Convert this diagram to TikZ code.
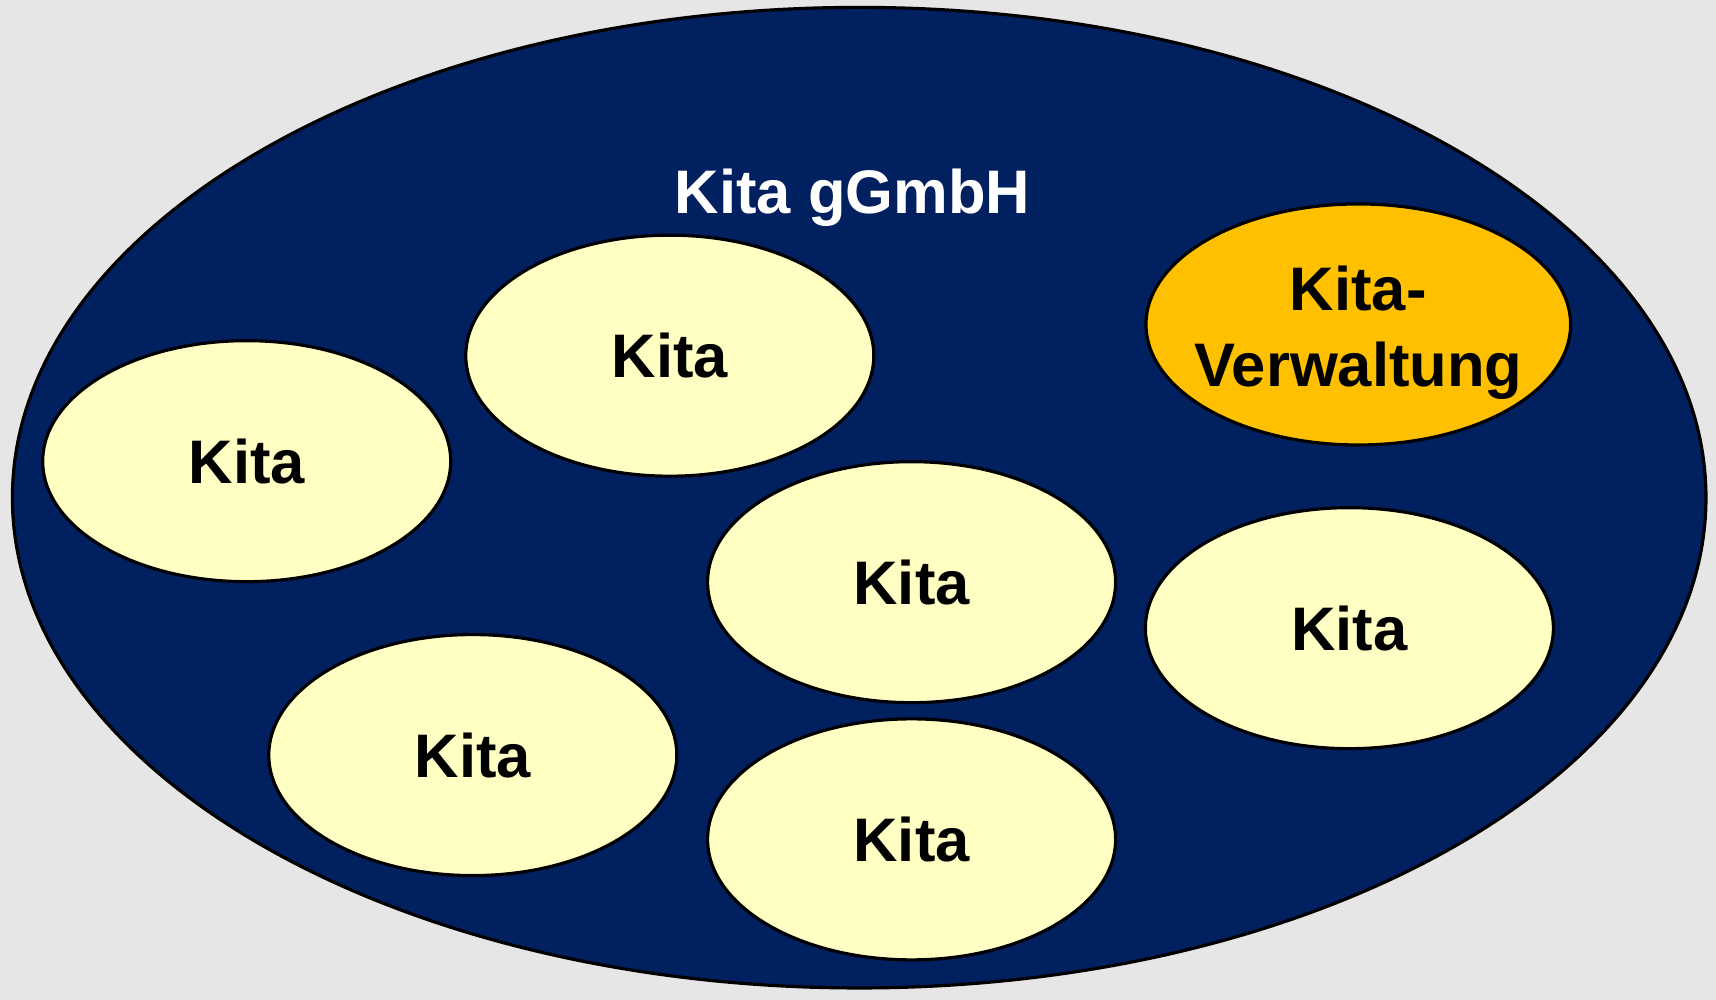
\documentclass[tikz,border=0pt]{standalone}
\usepackage{fontspec}
\setmainfont{Liberation Sans}
\usepackage{tikz}

\definecolor{gmbhblau}{HTML}{002060}
\definecolor{kitagelb}{HTML}{FFFFC4}
\definecolor{verworange}{HTML}{FFC000}
\definecolor{hintergrund}{HTML}{E6E6E6}

\begin{document}
\begin{tikzpicture}[kita/.style={draw=black,line width=0.9pt,fill=kitagelb},
		beschr/.style={font=\fontsize{17.5}{21.6}\selectfont\bfseries,
			align=center,text depth=0pt}]
	\path[fill=hintergrund] (0,0) rectangle (17.16,10);
	\path[use as bounding box] (0,0) rectangle (17.16,10);

	\path[draw,line width=0.9pt,fill=gmbhblau] (8.592,5.023) 
		ellipse [x radius=8.468, y radius=4.903];
	\node[beschr,text=white] (gmbh) at (8.525,8.083){Kita gGmbH};
	
	\path[kita] (2.467,5.388) ellipse [x radius=2.04, y radius=1.205];
	\node[beschr] (k1) at (2.467,5.388){Kita};
	
	\path[kita] (6.698,6.443) ellipse [x radius=2.04, y radius=1.205];
	\node[beschr] (k2) at (6.698,6.443){Kita};

	\path[kita] (9.116,4.178) ellipse [x radius=2.04, y radius=1.205];
	\node[beschr] (k3) at (9.116,4.178){Kita};

	\path[kita] (13.494,3.718) ellipse [x radius=2.04, y radius=1.205];
	\node[beschr] (k4) at (13.494,3.718){Kita};

	\path[kita] (4.728,2.449) ellipse [x radius=2.04, y radius=1.205];
	\node[beschr] (k5) at (4.728,2.449){Kita};

	\path[kita] (9.116,1.606) ellipse [x radius=2.04, y radius=1.205];
	\node[beschr] (k6) at (9.116,1.606){Kita};

	\path[kita,fill=verworange] (13.583,6.755) 
		ellipse [x radius=2.123, y radius=1.205];
	\node[beschr] (verw) at (13.583,6.733){Kita-\\Verwaltung};

	\end{tikzpicture}
\end{document}
